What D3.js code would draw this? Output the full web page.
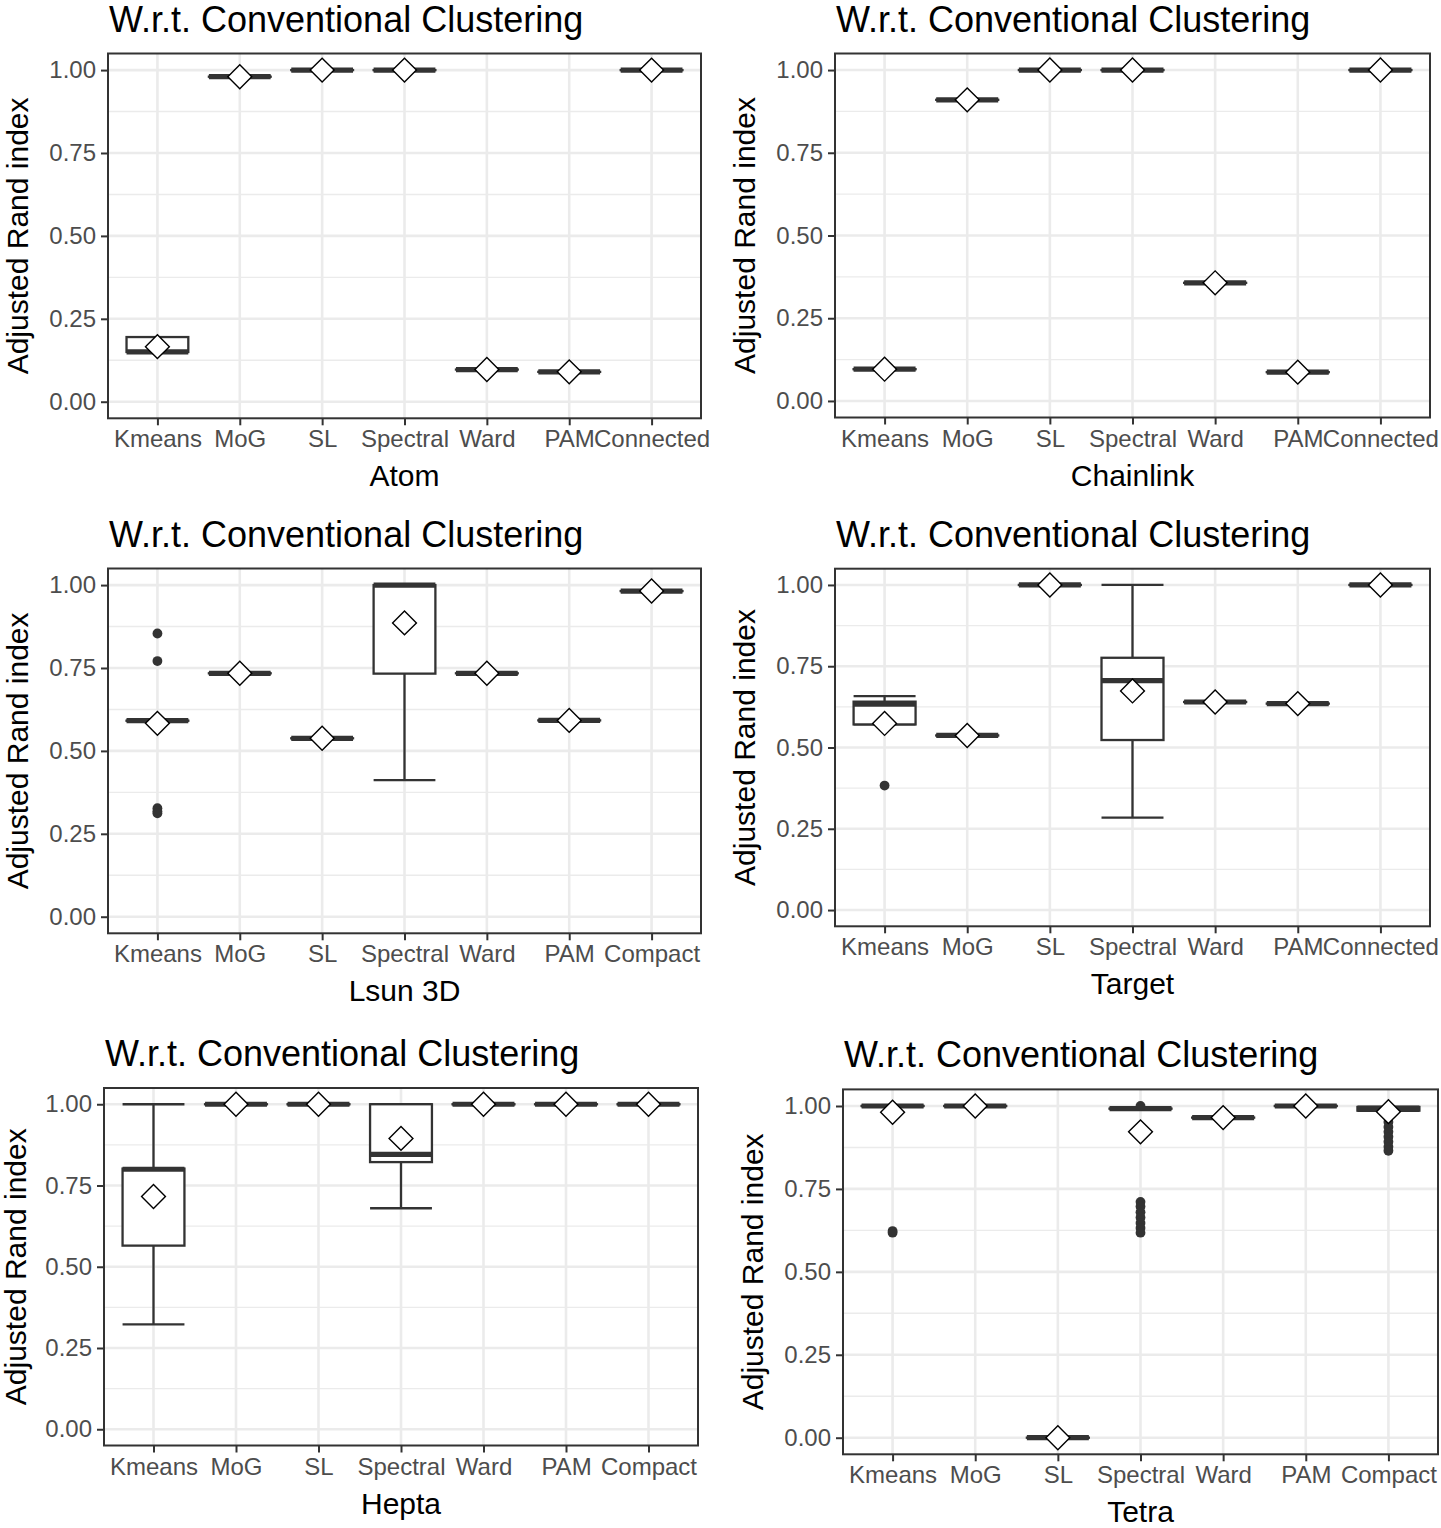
<!DOCTYPE html>
<html>
<head>
<meta charset="utf-8">
<script src="https://cdn.jsdelivr.net/npm/d3@7"></script>
<style>
  html, body { margin: 0; padding: 0; background: #ffffff; }
  svg { display: block; font-family: "Liberation Sans", Arial, "DejaVu Sans", sans-serif; }
</style>
</head>
<body>
<svg id="chart" width="1441" height="1528"></svg>
<script>
// ---------------- data ----------------
const titleText = "W.r.t. Conventional Clustering";
const yAxisLabel = "Adjusted Rand index";
const yTicks = [0, 0.25, 0.5, 0.75, 1];
const yMinor = [0.125, 0.375, 0.625, 0.875];
const catsConnected = ["Kmeans", "MoG", "SL", "Spectral", "Ward", "PAM", "Connected"];
const catsCompact = ["Kmeans", "MoG", "SL", "Spectral", "Ward", "PAM", "Compact"];

// box stats per method: [lowerWhisker, q1, median, q3, upperWhisker]
const atomBox = [[0.15,0.15,0.15,0.195,0.195],[0.98,0.98,0.98,0.98,0.98],[1,1,1,1,1],[1,1,1,1,1],[0.097,0.097,0.097,0.097,0.097],[0.09,0.09,0.09,0.09,0.09],[1,1,1,1,1]];
const atomMean = [0.166, 0.98, 1, 1, 0.097, 0.09, 1];
const atomOut = [];

const chainBox = [[0.096,0.096,0.096,0.096,0.096],[0.91,0.91,0.91,0.91,0.91],[1,1,1,1,1],[1,1,1,1,1],[0.357,0.357,0.357,0.357,0.357],[0.087,0.087,0.087,0.087,0.087],[1,1,1,1,1]];
const chainMean = [0.096, 0.91, 1, 1, 0.357, 0.087, 1];
const chainOut = [];

const lsunBox = [[0.591,0.591,0.591,0.591,0.591],[0.734,0.734,0.734,0.734,0.734],[0.538,0.538,0.538,0.538,0.538],[0.412,0.733,1,1,1],[0.734,0.734,0.734,0.734,0.734],[0.592,0.592,0.592,0.592,0.592],[0.982,0.982,0.982,0.982,0.982]];
const lsunMean = [0.583, 0.734, 0.538, 0.886, 0.734, 0.592, 0.982];
const lsunOut = [[0,0.854],[0,0.771],[0,0.327],[0,0.318],[0,0.312]];

const targetBox = [[0.571,0.571,0.633,0.641,0.658],[0.537,0.537,0.537,0.537,0.537],[1,1,1,1,1],[0.284,0.523,0.706,0.776,1],[0.64,0.64,0.64,0.64,0.64],[0.635,0.635,0.635,0.635,0.635],[1,1,1,1,1]];
const targetMean = [0.574, 0.537, 1, 0.674, 0.64, 0.635, 1];
const targetOut = [[0,0.383]];

const heptaBox = [[0.323,0.565,0.8,0.802,1],[1,1,1,1,1],[1,1,1,1,1],[0.68,0.822,0.846,1,1],[1,1,1,1,1],[1,1,1,1,1],[1,1,1,1,1]];
const heptaMean = [0.716, 1, 1, 0.895, 1, 1, 1];
const heptaOut = [];

const tetraBox = [[1,1,1,1,1],[1,1,1,1,1],[0,0,0,0,0],[0.992,0.992,0.992,0.992,0.992],[0.965,0.965,0.965,0.965,0.965],[1,1,1,1,1],[0.985,0.986,0.992,0.997,0.998]];
const tetraMean = [0.981, 1, 0, 0.922, 0.965, 1, 0.983];
const tetraOut = [[0,0.623],[0,0.618],
  [3,1.0],[3,0.711],[3,0.697],[3,0.68],[3,0.664],[3,0.647],[3,0.632],[3,0.618],
  [6,0.965],[6,0.952],[6,0.937],[6,0.922],[6,0.907],[6,0.892],[6,0.877],[6,0.865]];

// ---------------- layout ----------------
const panels = [
  {xlab:"Atom",      cats:catsConnected, box:atomBox,   mean:atomMean,   out:atomOut,   l:108, r:701,  t:53.5,   b:418.3},
  {xlab:"Chainlink", cats:catsConnected, box:chainBox,  mean:chainMean,  out:chainOut,  l:835, r:1430, t:53.5,   b:417.5},
  {xlab:"Lsun 3D",   cats:catsCompact,   box:lsunBox,   mean:lsunMean,   out:lsunOut,   l:108, r:701,  t:568.5,  b:933.3},
  {xlab:"Target",    cats:catsConnected, box:targetBox, mean:targetMean, out:targetOut, l:835, r:1430, t:568.7,  b:926.3},
  {xlab:"Hepta",     cats:catsCompact,   box:heptaBox,  mean:heptaMean,  out:heptaOut,  l:104, r:698,  t:1088,   b:1445.5},
  {xlab:"Tetra",     cats:catsCompact,   box:tetraBox,  mean:tetraMean,  out:tetraOut,  l:843, r:1438, t:1089.4, b:1454.3}
];

const svg = d3.select("#chart");
svg.append("rect").attr("width", 1441).attr("height", 1528).attr("fill", "#fff");

const dark = "#333333";
const fmt = d3.format(".2f");

panels.forEach(p => {
  const g = svg.append("g");
  const y = d3.scaleLinear().domain([-0.05, 1.05]).range([p.b, p.t]);
  const x = d3.scalePoint().domain(p.cats).range([p.l, p.r]).padding(0.6);
  const step = x.step();
  const bw = step * 0.75;

  // grid
  g.selectAll(".minor").data(yMinor).enter().append("line")
    .attr("x1", p.l).attr("x2", p.r).attr("y1", d => y(d)).attr("y2", d => y(d))
    .attr("stroke", "#ebebeb").attr("stroke-width", 1.4);
  g.selectAll(".major").data(yTicks).enter().append("line")
    .attr("x1", p.l).attr("x2", p.r).attr("y1", d => y(d)).attr("y2", d => y(d))
    .attr("stroke", "#ebebeb").attr("stroke-width", 2.6);
  g.selectAll(".vmajor").data(p.cats).enter().append("line")
    .attr("x1", d => x(d)).attr("x2", d => x(d)).attr("y1", p.t).attr("y2", p.b)
    .attr("stroke", "#ebebeb").attr("stroke-width", 2.6);

  // boxes
  p.cats.forEach((c, i) => {
    const [lo, q1, med, q3, hi] = p.box[i];
    const cx = x(c);
    const bg = g.append("g");
    bg.append("line").attr("x1", cx).attr("x2", cx).attr("y1", y(q3)).attr("y2", y(hi))
      .attr("stroke", dark).attr("stroke-width", 2.3);
    bg.append("line").attr("x1", cx).attr("x2", cx).attr("y1", y(q1)).attr("y2", y(lo))
      .attr("stroke", dark).attr("stroke-width", 2.3);
    [lo, hi].forEach(v => {
      bg.append("line").attr("x1", cx - bw/2).attr("x2", cx + bw/2).attr("y1", y(v)).attr("y2", y(v))
        .attr("stroke", dark).attr("stroke-width", 2.3);
    });
    bg.append("rect").attr("x", cx - bw/2).attr("width", bw)
      .attr("y", y(q3)).attr("height", Math.max(0.01, y(q1) - y(q3)))
      .attr("fill", "#fff").attr("stroke", dark).attr("stroke-width", 2.3);
    bg.append("line").attr("x1", cx - bw/2).attr("x2", cx + bw/2).attr("y1", y(med)).attr("y2", y(med))
      .attr("stroke", dark).attr("stroke-width", 5.2).attr("stroke-linecap", "butt");
  });

  // outliers
  g.selectAll(".out").data(p.out).enter().append("circle")
    .attr("cx", d => x(p.cats[d[0]])).attr("cy", d => y(d[1])).attr("r", 4.9)
    .attr("fill", dark);

  // means (diamonds)
  const dia = d3.symbol().type(d3.symbolSquare).size(285);
  g.selectAll(".mean").data(p.mean).enter().append("path")
    .attr("d", dia)
    .attr("transform", (d, i) => `translate(${x(p.cats[i])},${y(d)}) rotate(45)`)
    .attr("fill", "#fff").attr("stroke", "#000").attr("stroke-width", 1.4);

  // border
  g.append("rect").attr("x", p.l).attr("y", p.t).attr("width", p.r - p.l).attr("height", p.b - p.t)
    .attr("fill", "none").attr("stroke", dark).attr("stroke-width", 2);

  // y axis
  const yAxis = d3.axisLeft(y).tickValues(yTicks).tickFormat(fmt).tickSize(7).tickPadding(5);
  const ya = g.append("g").attr("transform", `translate(${p.l},0)`).call(yAxis);
  ya.select(".domain").remove();
  ya.selectAll(".tick line").attr("stroke", dark).attr("stroke-width", 2);
  ya.selectAll(".tick text").attr("fill", "#4d4d4d").style("font-size", "24px")
    .style("font-family", '"Liberation Sans", Arial, sans-serif');

  // x axis
  const xAxis = d3.axisBottom(x).tickSize(7).tickPadding(5);
  const xa = g.append("g").attr("transform", `translate(0,${p.b})`).call(xAxis);
  xa.select(".domain").remove();
  xa.selectAll(".tick line").attr("stroke", dark).attr("stroke-width", 2);
  xa.selectAll(".tick text").attr("fill", "#4d4d4d").style("font-size", "24px")
    .style("font-family", '"Liberation Sans", Arial, sans-serif');

  // titles
  g.append("text").attr("x", p.l + 1).attr("y", p.t - 22)
    .attr("fill", "#000").style("font-size", "36px").text(titleText);
  g.append("text").attr("x", (p.l + p.r) / 2).attr("y", p.b + 68)
    .attr("text-anchor", "middle").attr("fill", "#000").style("font-size", "30px").text(p.xlab);
  g.append("text")
    .attr("transform", `translate(${Math.max(p.l - 80, 26)},${(p.t + p.b) / 2}) rotate(-90)`)
    .attr("text-anchor", "middle").attr("fill", "#000").style("font-size", "30px").text(yAxisLabel);
});
</script>
</body>
</html>
